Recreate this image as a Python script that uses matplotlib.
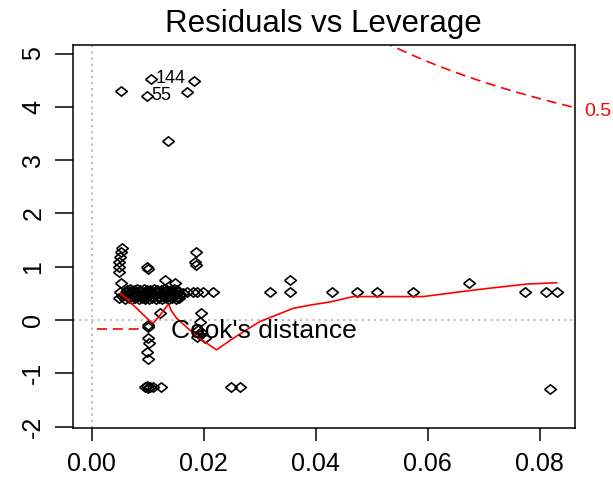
import numpy as np
import matplotlib.pyplot as plt
from matplotlib.lines import Line2D
import matplotlib.transforms as mtransforms

plt.rcParams['font.family'] = ['Liberation Sans', 'DejaVu Sans']
plt.rcParams['axes.unicode_minus'] = False

# 杠杆值 / 标准化残差
leverage = [
    0.0052, 0.0171, 0.0182, 0.0137,
    0.0054, 0.0053, 0.0051, 0.0049, 0.0048, 0.0049, 0.0053, 0.0050, 0.0049, 0.0055,
    0.0099, 0.0100, 0.0187, 0.0185, 0.0187,
    0.0058, 0.0062, 0.0065, 0.0068, 0.0071, 0.0074, 0.0077, 0.0080, 0.0083, 0.0086,
    0.0089, 0.0092, 0.0095, 0.0098, 0.0101, 0.0104, 0.0107, 0.0110, 0.0113, 0.0116,
    0.0119, 0.0122, 0.0125, 0.0128, 0.0131, 0.0134, 0.0137, 0.0140, 0.0143, 0.0146,
    0.0149, 0.0152, 0.0155, 0.0158, 0.0163, 0.0170, 0.0181, 0.0188, 0.0199, 0.0217,
    0.0060, 0.0066, 0.0072, 0.0078, 0.0084, 0.0090, 0.0096, 0.0102, 0.0108, 0.0114,
    0.0120, 0.0126, 0.0132, 0.0138, 0.0144, 0.0150, 0.0156,
    0.0063, 0.0069, 0.0075, 0.0081, 0.0087, 0.0093, 0.0099, 0.0105, 0.0111, 0.0117,
    0.0123, 0.0129, 0.0135, 0.0141, 0.0147, 0.0153,
    0.0131, 0.0149, 0.0122, 0.0101, 0.0196, 0.0193, 0.0190,
    0.0193, 0.0188, 0.0202, 0.0196,
    0.0101, 0.0100, 0.0102, 0.0099, 0.0101,
    0.0095, 0.0098, 0.0101, 0.0105, 0.0110, 0.0123, 0.0248, 0.0264,
    0.0319, 0.0354, 0.0354, 0.0429, 0.0473, 0.0509, 0.0574, 0.0674, 0.0774,
    0.0812, 0.0830, 0.0818,
]
std_resid = [
    4.30, 4.27, 4.48, 3.36,
    1.36, 1.28, 1.18, 1.09, 1.00, 0.91, 0.70, 0.52, 0.42, 0.45,
    1.00, 0.95, 1.28, 1.08, 1.03,
    0.47, 0.52, 0.44, 0.50, 0.55, 0.46, 0.51, 0.43, 0.49, 0.54,
    0.47, 0.50, 0.44, 0.52, 0.48, 0.55, 0.45, 0.50, 0.47, 0.53,
    0.44, 0.49, 0.51, 0.46, 0.54, 0.48, 0.50, 0.45, 0.52, 0.47,
    0.50, 0.44, 0.53, 0.49, 0.50, 0.53, 0.53, 0.53, 0.53, 0.53,
    0.40, 0.41, 0.39, 0.41, 0.40, 0.42, 0.40, 0.39, 0.41, 0.40,
    0.42, 0.40, 0.41, 0.39, 0.41, 0.40, 0.42,
    0.57, 0.58, 0.56, 0.58, 0.57, 0.58, 0.56, 0.57, 0.58, 0.56,
    0.57, 0.58, 0.57, 0.56, 0.58, 0.57,
    0.75, 0.69, 0.13, -0.09, 0.14, -0.03, -0.19,
    -0.28, -0.31, -0.34, -0.22,
    -0.13, -0.34, -0.44, -0.60, -0.74,
    -1.26, -1.24, -1.27, -1.26, -1.26, -1.26, -1.26, -1.26,
    0.53, 0.75, 0.53, 0.53, 0.53, 0.53, 0.53, 0.70, 0.53,
    0.53, 0.53, -1.30,
]

# 标注点
label_ids = ['144', '55']
label_lev = [0.0106, 0.0099]
label_res = [4.53, 4.21]

# 平滑曲线
smooth_lev = [0.0051, 0.0065, 0.0101, 0.0110, 0.0122, 0.0137, 0.0143, 0.0152,
              0.0188, 0.0223, 0.0253, 0.0300, 0.0360, 0.0390, 0.0426, 0.0467,
              0.0509, 0.0592, 0.0658, 0.0705, 0.0777, 0.0830]
smooth_res = [0.50, 0.375, 0.01, -0.06, 0.09, 0.30, 0.16, 0.03,
              -0.31, -0.56, -0.34, -0.03, 0.22, 0.28, 0.34, 0.44,
              0.44, 0.44, 0.53, 0.59, 0.675, 0.70]

# Cook 距离等高线
cook_level = 0.5
n_params = 3

xticks = [0.00, 0.02, 0.04, 0.06, 0.08]
xtick_labels = ['0.00', '0.02', '0.04', '0.06', '0.08']
yticks = [-2, -1, 0, 1, 2, 3, 4, 5]

fig = plt.figure(figsize=(6.13, 4.86), dpi=100)
ax = fig.add_axes([0.1186, 0.1193, 0.8194, 0.7887])
xlim = (-0.00339, 0.0863)
ax.set_xlim(*xlim)
ax.set_ylim(-2.026, 5.165)

ax.axhline(0, color='#b5b5b5', ls=(0, (1.2, 2.2)), lw=1.3, zorder=0)
ax.axvline(0, color='#b5b5b5', ls=(0, (1.2, 2.2)), lw=1.3, zorder=0)

diamond = [(-1, 0), (0, 0.8), (1, 0), (0, -0.8), (-1, 0)]
ax.plot(leverage, std_resid, ls='none', marker=diamond, ms=8.4,
        mfc='none', mec='black', mew=1.2)
ax.plot(label_lev, label_res, ls='none', marker=diamond, ms=8.4,
        mfc='none', mec='black', mew=1.2)
for t, x, y in zip(label_ids, label_lev, label_res):
    ax.annotate(t, (x, y), xytext=(3, 0), textcoords='offset points',
                ha='left', va='center', fontsize=13)

ax.plot(smooth_lev, smooth_res, color='red', lw=1.2)

dash = (0, (6, 3.5))
h = np.linspace(0.04, xlim[1], 200)
r = np.sqrt(cook_level * n_params * (1 - h) / h)
ax.plot(h, r, color='red', ls=dash, lw=1.2)
trans = mtransforms.blended_transform_factory(ax.transAxes, ax.transData)
ax.text(1.018, r[-1] - 0.08, '0.5', transform=trans, color='red', fontsize=14,
        ha='left', va='center', clip_on=False)

handle = Line2D([], [], color='red', ls=dash, lw=1.2)
ax.legend([handle], ["Cook's distance"], loc='center left',
          bbox_to_anchor=(0.048, 0.253), frameon=False, fontsize=19,
          handlelength=1.65, handletextpad=1.15, borderaxespad=0, borderpad=0)

ax.set_xticks(xticks)
ax.set_xticklabels(xtick_labels)
ax.set_yticks(yticks)
ax.tick_params(axis='both', labelsize=18, width=1.1)
ax.tick_params(axis='x', length=9.5, pad=8)
ax.tick_params(axis='y', length=12.7, pad=7, labelrotation=90)
for lab in ax.get_yticklabels():
    lab.set_va('center')
for s in ax.spines.values():
    s.set_linewidth(1.1)

ax.set_title('Residuals vs Leverage', fontsize=22.5, pad=9)

fig.savefig('out.png', dpi=100)
